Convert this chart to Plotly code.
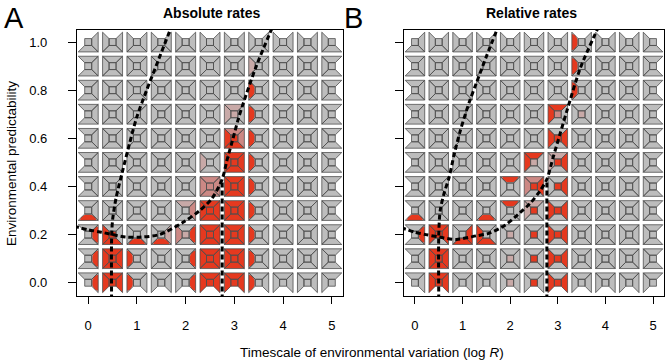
import math
import plotly.graph_objects as go

# ---------------- data ----------------
x_cols = [0.0, 0.5, 1.0, 1.5, 2.0, 2.5, 3.0, 3.5, 4.0, 4.5, 5.0]
y_rows = [round(0.1 * i, 1) for i in range(11)]
x_tick_vals = [0, 1, 2, 3, 4, 5]
y_tick_vals = [0.0, 0.2, 0.4, 0.6, 0.8, 1.0]
y_tick_text = ["0.0", "0.2", "0.4", "0.6", "0.8", "1.0"]

panel_titles = ["Absolute rates", "Relative rates"]
panel_letters = ["A", "B"]

# codes per cell part, order: Center, Left, Right, Top, Bottom
# '.' gray, 'R' red, 'p' pink, 'l' light pink, 'd' partial red lobe
abs_cells = [
    (0.0, 0.0, "..d.."), (0.5, 0.0, "RRRR."), (1.0, 0.0, ".d..."), (2.0, 0.0, "..d.."),
    (2.5, 0.0, "RRRR."), (3.0, 0.0, "RRRR."), (3.5, 0.0, ".d..."),
    (0.0, 0.1, "..d.."), (0.5, 0.1, "RRRRR"), (1.0, 0.1, ".d..."), (2.0, 0.1, "..d.."),
    (2.5, 0.1, "RRRRR"), (3.0, 0.1, "RRRRR"), (3.5, 0.1, ".d..."),
    (0.0, 0.2, "..d.."), (0.5, 0.2, "RR..R"), (1.0, 0.2, "....d"), (1.5, 0.2, "..l.d"),
    (2.0, 0.2, "lpd.."), (2.5, 0.2, "RRRRR"), (3.0, 0.2, "RRRRR"), (3.5, 0.2, ".d..."),
    (0.0, 0.3, "....d"), (2.0, 0.3, "..pl."), (2.5, 0.3, "RRRRR"), (3.0, 0.3, "RRRRR"),
    (3.5, 0.3, ".d..."),
    (2.5, 0.4, "ppppp"), (3.0, 0.4, "RRRRR"), (3.5, 0.4, ".d..."),
    (2.5, 0.5, ".l..."), (3.0, 0.5, "RRRRR"), (3.5, 0.5, ".d..."),
    (3.0, 0.6, "RRppR"), (3.5, 0.6, ".d..."),
    (3.0, 0.7, "ll.l."), (3.5, 0.7, ".d..."),
    (3.5, 0.8, ".d..."),
    (3.5, 0.9, ".l..."),
]

rel_cells = [
    (0.5, 0.0, "RRRR."), (2.0, 0.0, "l...."), (2.5, 0.0, "R...."), (3.0, 0.0, "RRR.."),
    (0.5, 0.1, "RRRRR"), (2.0, 0.1, "l...."), (2.5, 0.1, "R...."), (3.0, 0.1, "RRR.."),
    (0.0, 0.2, "..d.."), (0.5, 0.2, "RRRR."), (1.0, 0.2, "..R.R"), (1.5, 0.2, ".R..R"),
    (2.0, 0.2, "l...."), (2.5, 0.2, "R...."), (3.0, 0.2, "RRR.."),
    (0.0, 0.3, "....d"), (1.5, 0.3, "....d"), (2.0, 0.3, "...d."), (2.5, 0.3, "Rl.l."),
    (3.0, 0.3, "RRR.."),
    (2.0, 0.4, "...d."), (2.5, 0.4, "RpRp."), (3.0, 0.4, "R.R.."),
    (2.5, 0.5, "lR.R."), (3.0, 0.5, "RlRl."),
    (3.0, 0.6, "RRR.."),
    (3.0, 0.7, "pR.R."), (3.5, 0.7, "l...."),
    (3.5, 0.8, ".d..."), (3.5, 0.9, ".d..."), (3.5, 1.0, ".d..."),
]

abs_left_x = [0.48, 0.48, 0.50, 0.57, 0.70, 0.85, 1.00, 1.20, 1.45, 1.72]
abs_left_y = [-0.07, 0.18, 0.26, 0.35, 0.46, 0.58, 0.69, 0.80, 0.93, 1.07]
abs_curve_x = [-0.3, 0.0, 0.27, 0.77, 1.1, 1.46, 1.94, 2.29, 2.54, 2.75, 2.85, 2.96, 3.08, 3.19, 3.45, 3.8]
abs_curve_y = [0.235, 0.22, 0.21, 0.19, 0.19, 0.2, 0.25, 0.30, 0.35, 0.43, 0.51, 0.59, 0.68, 0.75, 0.9, 1.07]
abs_vline_x = [2.75, 2.75]
abs_vline_y = [-0.07, 0.43]

rel_left_x = [0.5, 0.5, 0.53, 0.61, 0.72, 0.82, 0.95, 1.14, 1.29, 1.5, 1.76]
rel_left_y = [-0.07, 0.2, 0.3, 0.37, 0.44, 0.53, 0.63, 0.75, 0.83, 0.94, 1.07]
rel_curve_x = [-0.3, 0.0, 0.23, 0.51, 0.87, 1.29, 1.55, 1.9, 2.2, 2.42, 2.62, 2.77, 2.9, 3.05, 3.2, 3.47, 3.87]
rel_curve_y = [0.23, 0.21, 0.2, 0.19, 0.18, 0.195, 0.205, 0.24, 0.29, 0.33, 0.38, 0.43, 0.52, 0.62, 0.72, 0.89, 1.07]
rel_vline_x = [2.77, 2.77]
rel_vline_y = [-0.07, 0.43]

# ---------------- style ----------------
COL = {'.': "#bdbdbd", 'R': "#e5391f", 'p': "#cc8884", 'l': "#c8a9a7", 'd': "#e5391f"}
OUTLINE = "#4f4f4f"
K = 0.35
HX, HY = 0.205, 0.041
PARTS = {
    'C': [(-K, -K), (K, -K), (K, K), (-K, K)],
    'L': [(-1, -1), (-K, -K), (-K, K), (-1, 1)],
    'R': [(1, -1), (1, 1), (K, K), (K, -K)],
    'T': [(-1, 1), (-K, K), (K, K), (1, 1)],
    'B': [(-1, -1), (1, -1), (K, -K), (-K, -K)],
}
ORDER = "CLRTB"


def lobe(part, a=0.6, b=0.82, n=14):
    pts = []
    for i in range(n + 1):
        t = -math.pi / 2 + math.pi * i / n
        c, s = math.cos(t), math.sin(t)
        if part == 'R':
            pts.append((1 - a * c, b * s))
        elif part == 'L':
            pts.append((-1 + a * c, b * s))
        elif part == 'T':
            pts.append((b * s, 1 - a * c))
        else:
            pts.append((b * s, -1 + a * c))
    return pts


fig = go.Figure()


def add_panel(cells, xa, ya):
    cmap = {(round(x, 2), round(y, 2)): c for x, y, c in cells}
    buckets = {k: ([], []) for k in ['.', 'p', 'l', 'R', 'd']}
    ox, oy = [], []
    nx, ny = len(x_cols), len(y_rows)
    for xi, x in enumerate(x_cols):
        for yi, y in enumerate(y_rows):
            codes = cmap.get((round(x, 2), round(y, 2)), ".....")
            for part, code in zip(ORDER, codes):
                white = ((part == 'L' and xi == 0) or (part == 'R' and xi == nx - 1)
                         or (part == 'B' and yi == 0) or (part == 'T' and yi == ny - 1))
                if white:
                    continue
                pts = [(x + u * HX, y + v * HY) for u, v in PARTS[part]]
                base = '.' if code == 'd' else code
                bx, by = buckets[base]
                bx.extend([p[0] for p in pts] + [None])
                by.extend([p[1] for p in pts] + [None])
                ox.extend([p[0] for p in pts] + [pts[0][0], None])
                oy.extend([p[1] for p in pts] + [pts[0][1], None])
                if code == 'd':
                    lp = [(x + u * HX, y + v * HY) for u, v in lobe(part)]
                    dx, dy = buckets['d']
                    dx.extend([p[0] for p in lp] + [None])
                    dy.extend([p[1] for p in lp] + [None])
    for k in ['.', 'p', 'l', 'R', 'd']:
        bx, by = buckets[k]
        if not bx:
            continue
        fig.add_trace(go.Scatter(x=bx, y=by, mode="lines", fill="toself", fillcolor=COL[k],
                                 line=dict(width=0, color=COL[k]), xaxis=xa, yaxis=ya,
                                 hoverinfo="skip", showlegend=False))
    fig.add_trace(go.Scatter(x=ox, y=oy, mode="lines", line=dict(width=0.8, color=OUTLINE),
                             xaxis=xa, yaxis=ya, hoverinfo="skip", showlegend=False))


def add_curve(xs, ys, xa, ya, shape="spline"):
    fig.add_trace(go.Scatter(x=xs, y=ys, mode="lines",
                             line=dict(color="black", width=3, dash="5px,3px", shape=shape, smoothing=0.8),
                             xaxis=xa, yaxis=ya, hoverinfo="skip", showlegend=False))


add_panel(abs_cells, "x", "y")
add_curve(abs_left_x, abs_left_y, "x", "y")
add_curve(abs_curve_x, abs_curve_y, "x", "y")
add_curve(abs_vline_x, abs_vline_y, "x", "y", "linear")

add_panel(rel_cells, "x2", "y2")
add_curve(rel_left_x, rel_left_y, "x2", "y2")
add_curve(rel_curve_x, rel_curve_y, "x2", "y2")
add_curve(rel_vline_x, rel_vline_y, "x2", "y2", "linear")

W, H = 671, 362


def px(x):
    return x / W


def py(y):
    return 1 - y / H


FONT = "Liberation Sans, Arial, Helvetica, sans-serif"
ydom = [py(296), py(30)]
common_x = dict(range=[-0.23, 5.23], tickvals=x_tick_vals, ticks="outside", ticklen=7,
                tickwidth=1, tickcolor="black", showline=True, mirror=True, linecolor="black",
                linewidth=1.2, showgrid=False, zeroline=False, ticklabelstandoff=10,
                automargin=False,
                tickfont=dict(size=13, color="black", family=FONT))
common_y = dict(range=[-0.055, 1.05], tickvals=y_tick_vals, ticktext=y_tick_text, ticks="outside",
                ticklen=8, tickwidth=1, tickcolor="black", showline=True, mirror=True,
                linecolor="black", linewidth=1.2, showgrid=False, zeroline=False,
                automargin=False,
                ticklabelstandoff=18, tickfont=dict(size=13, color="black", family=FONT), domain=ydom)

fig.update_layout(
    width=W, height=H, autosize=False,
    margin=dict(l=0, r=0, t=0, b=0, pad=0, autoexpand=False),
    paper_bgcolor="white", plot_bgcolor="white",
    font=dict(family=FONT, color="black"),
    xaxis=dict(domain=[px(77), px(343)], anchor="y", **common_x),
    yaxis=dict(anchor="x", **common_y),
    xaxis2=dict(domain=[px(404), px(664)], anchor="y2", **common_x),
    yaxis2=dict(anchor="x2", showticklabels=False, **common_y),
)


def note(text, x, y, size, angle=0):
    return dict(text=text, x=px(x), y=py(y), xref="paper", yref="paper", showarrow=False,
                xanchor="center", yanchor="middle", textangle=angle,
                font=dict(size=size, family=FONT, color="black"))


ann = [
    note("<b>%s</b>" % panel_titles[0], 211, 13, 14),
    note("<b>%s</b>" % panel_titles[1], 531, 13, 14),
    note(panel_letters[0], 14, 17.5, 29),
    note(panel_letters[1], 353, 17.5, 29),
    note("Environmental predictability", 12, 164, 13.5, -90),
    note("Timescale of environmental variation (log <i>R</i>)", 372, 352, 13.5),
]
fig.update_layout(annotations=ann)

# remove the browser's default 8px body margin so the figure sits at the window's corner
fig.write_html("out.html", config={"displayModeBar": False},
               post_script="document.body.style.margin='0';")
